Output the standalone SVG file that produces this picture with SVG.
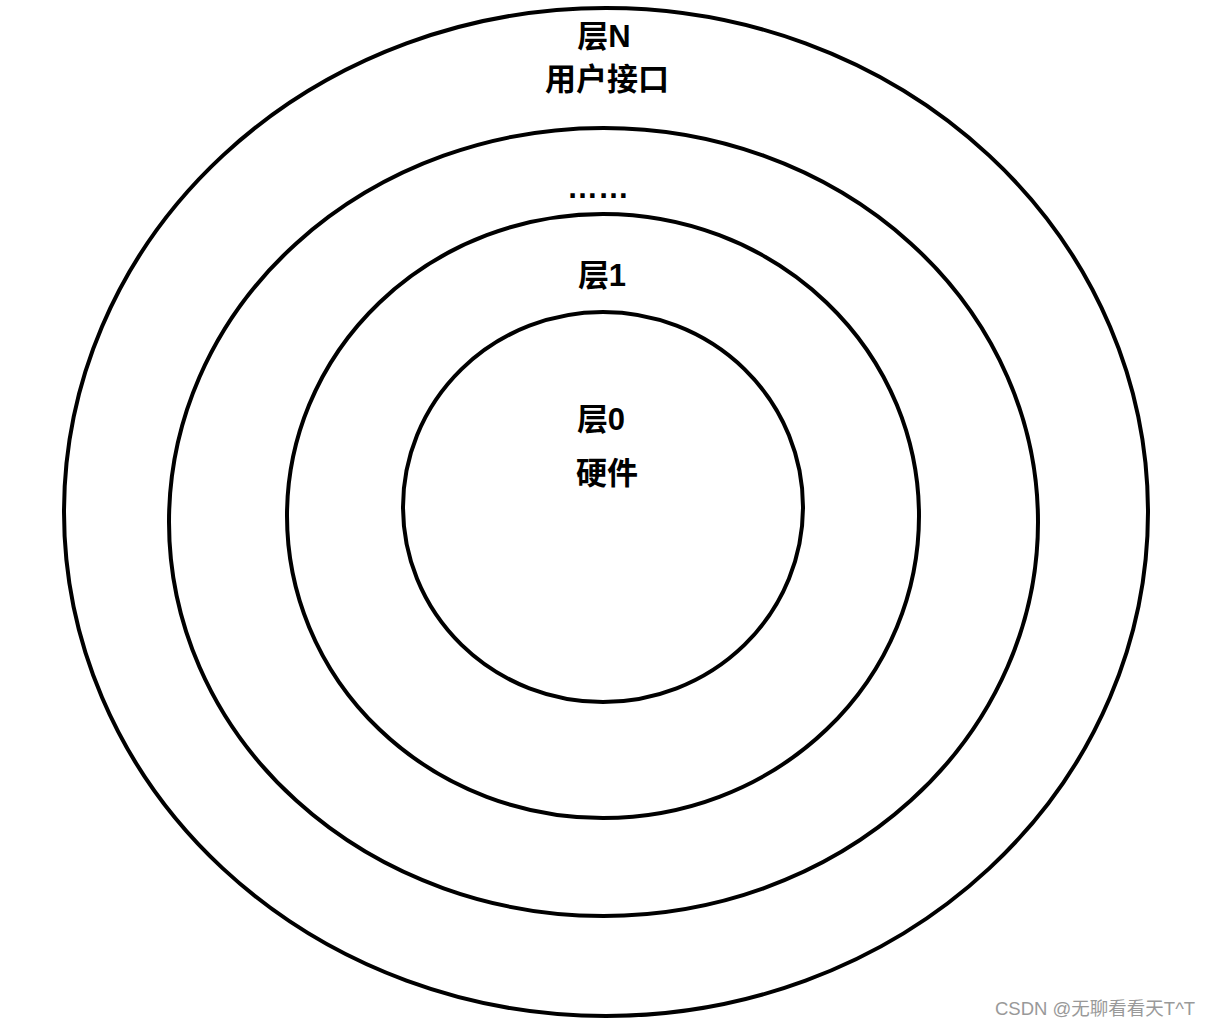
<svg xmlns="http://www.w3.org/2000/svg" width="1213" height="1027" viewBox="0 0 1213 1027">
<style>
.ring{fill:none;stroke:#000;stroke-width:4}
.t{font-family:"Liberation Sans","Noto Sans CJK SC",sans-serif;font-weight:bold;font-size:31px;fill:#000;text-anchor:middle}
.wm{font-family:"Liberation Sans","Noto Sans CJK SC",sans-serif;font-size:18.5px;fill:#999}
</style>
<rect width="1213" height="1027" fill="#fff"/>
<g id="layerN">
<ellipse class="ring" cx="606" cy="512" rx="542" ry="504"/>
<text class="t" x="604" y="47">层N</text>
<text class="t" x="607" y="90">用户接口</text>
</g>
<g id="layerDots">
<ellipse class="ring" cx="603.5" cy="522" rx="434.5" ry="394"/>
<text class="t" x="598" y="198">……</text>
</g>
<g id="layer1">
<ellipse class="ring" cx="603" cy="516" rx="316" ry="302"/>
<text class="t" x="602" y="286">层1</text>
</g>
<g id="layer0">
<ellipse class="ring" cx="603" cy="507" rx="200" ry="195"/>
<text class="t" x="601" y="430">层0</text>
<text class="t" x="607" y="484">硬件</text>
</g>
<g id="connectors"></g>
<text class="wm" x="995" y="1015">CSDN @无聊看看天T^T</text>
</svg>
